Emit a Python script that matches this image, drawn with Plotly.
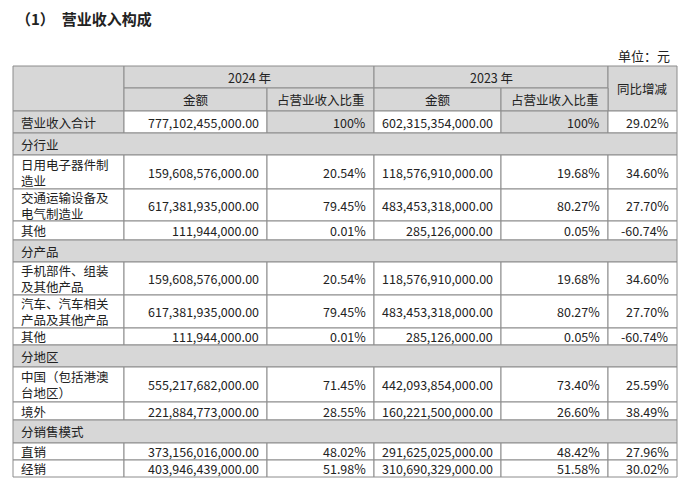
import plotly.graph_objects as go

# Table content
row_labels = ["营业收入合计", "分行业", "日用电子器件制<br>造业", "交通运输设备及<br>电气制造业", "其他",
              "分产品", "手机部件、组装<br>及其他产品", "汽车、汽车相关<br>产品及其他产品", "其他",
              "分地区", "中国（包括港澳<br>台地区）", "境外", "分销售模式", "直销", "经销"]
amt_2024 = ["777,102,455,000.00", "", "159,608,576,000.00", "617,381,935,000.00", "111,944,000.00",
            "", "159,608,576,000.00", "617,381,935,000.00", "111,944,000.00",
            "", "555,217,682,000.00", "221,884,773,000.00", "", "373,156,016,000.00", "403,946,439,000.00"]
pct_2024 = ["100%", "", "20.54%", "79.45%", "0.01%", "", "20.54%", "79.45%", "0.01%",
            "", "71.45%", "28.55%", "", "48.02%", "51.98%"]
amt_2023 = ["602,315,354,000.00", "", "118,576,910,000.00", "483,453,318,000.00", "285,126,000.00",
            "", "118,576,910,000.00", "483,453,318,000.00", "285,126,000.00",
            "", "442,093,854,000.00", "160,221,500,000.00", "", "291,625,025,000.00", "310,690,329,000.00"]
pct_2023 = ["100%", "", "19.68%", "80.27%", "0.05%", "", "19.68%", "80.27%", "0.05%",
            "", "73.40%", "26.60%", "", "48.42%", "51.58%"]
yoy = ["29.02%", "", "34.60%", "27.70%", "-60.74%", "", "34.60%", "27.70%", "-60.74%",
       "", "25.59%", "38.49%", "", "27.96%", "30.02%"]
section_rows = [1, 5, 9, 12]

# Layout geometry (page pixels)
col_x = [13, 124, 267, 374, 501, 608, 677]
header_y = [66, 88, 111]
row_y = [111, 133, 155, 189, 221, 240, 262, 295, 328, 345, 367, 402, 420, 443, 460, 477]

GREY = "#d7d7d7"
LINE = "#8c8c8c"
FONT = "Noto Sans CJK SC"
PAGE_OFFSET = 8  # page body margin

shapes, annots = [], []


def cell(x0, x1, y0, y1, fill):
    shapes.append(dict(type="rect", x0=x0, x1=x1, y0=y0, y1=y1, fillcolor=fill,
                       line=dict(color=LINE, width=1), layer="below"))


def text(x, y, s, anchor="center", size=12.5):
    annots.append(dict(x=x, y=y, text=s, showarrow=False, xanchor=anchor, yanchor="middle",
                       font=dict(family=FONT, size=size, color="#222"), align="left"))


# header
cell(col_x[0], col_x[1], header_y[0], header_y[2], GREY)
cell(col_x[1], col_x[3], header_y[0], header_y[1], GREY)
cell(col_x[3], col_x[5], header_y[0], header_y[1], GREY)
cell(col_x[5], col_x[6], header_y[0], header_y[2], GREY)
for i in range(1, 5):
    cell(col_x[i], col_x[i + 1], header_y[1], header_y[2], GREY)
text((col_x[1] + col_x[3]) / 2, (header_y[0] + header_y[1]) / 2, "2024 年")
text((col_x[3] + col_x[5]) / 2, (header_y[0] + header_y[1]) / 2, "2023 年")
text((col_x[5] + col_x[6]) / 2, (header_y[0] + header_y[2]) / 2, "同比增减")
for i, s in enumerate(["金额", "占营业收入比重", "金额", "占营业收入比重"]):
    text((col_x[i + 1] + col_x[i + 2]) / 2, (header_y[1] + header_y[2]) / 2, s)

# body
for r, lab in enumerate(row_labels):
    y0, y1 = row_y[r], row_y[r + 1]
    ym = (y0 + y1) / 2
    if r in section_rows:
        cell(col_x[0], col_x[6], y0, y1, GREY)
        text(col_x[0] + 6, ym, lab, "left")
        continue
    fills = ["white"] * 6
    if r == 0:
        fills = [GREY, "white", GREY, "white", GREY, "white"]
    for c in range(6):
        cell(col_x[c], col_x[c + 1], y0, y1, fills[c])
    if "<br>" in lab:
        a, b = lab.split("<br>")
        text(col_x[0] + 6, ym - 8, a, "left")
        text(col_x[0] + 6, ym + 8, b, "left")
    else:
        text(col_x[0] + 6, ym, lab, "left")
    for c, vals in enumerate([amt_2024, pct_2024, amt_2023, pct_2023, yoy]):
        text(col_x[c + 2] - 6, ym, vals[r], "right")

text(14, 18, "<b>（1）  营业收入构成</b>", "left", 15)
text(672, 55, "单位：元", "right", 13)

fig = go.Figure()
fig.update_layout(
    width=692, height=482, margin=dict(l=0, r=0, t=0, b=0),
    paper_bgcolor="white", plot_bgcolor="white",
    xaxis=dict(range=[PAGE_OFFSET, 692 + PAGE_OFFSET], visible=False, fixedrange=True),
    yaxis=dict(range=[482 + PAGE_OFFSET, PAGE_OFFSET], visible=False, fixedrange=True),
    shapes=shapes, annotations=annots, showlegend=False,
)
fig.write_html("out.html")
